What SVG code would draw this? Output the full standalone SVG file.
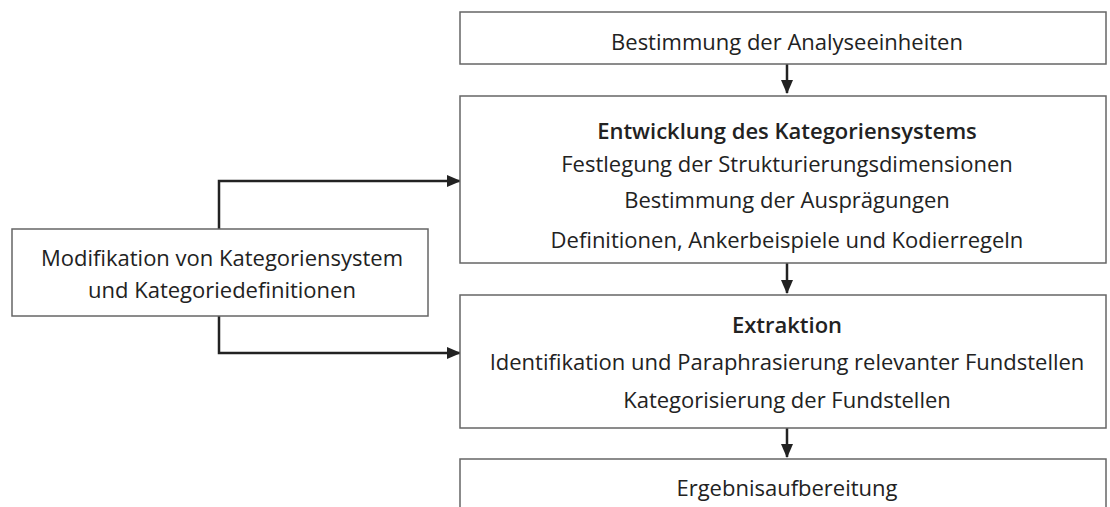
<svg xmlns="http://www.w3.org/2000/svg" width="1110" height="507" viewBox="0 0 1110 507">
<style>
.box{fill:#fff;stroke:#666;stroke-width:1.5}
.t{font-family:"Open Sans","Noto Sans",sans-serif;font-size:22px;fill:#222;text-anchor:middle}
.b{font-weight:600}
.c{fill:none;stroke:#222;stroke-width:2.5}
</style>
<defs>
<marker id="ah" markerWidth="14" markerHeight="12" refX="13" refY="6" orient="auto" markerUnits="userSpaceOnUse">
<path d="M0,0 L14,6 L0,12 Z" fill="#222"/>
</marker>
</defs>
<rect width="1110" height="507" fill="#fff"/>
<g id="connectors">
<path class="c" d="M787,64 V93" marker-end="url(#ah)"/>
<path class="c" d="M787,263 V293" marker-end="url(#ah)"/>
<path class="c" d="M787,428 V457" marker-end="url(#ah)"/>
<path class="c" d="M219,229 V181 H460" marker-end="url(#ah)"/>
<path class="c" d="M219,316 V353 H460" marker-end="url(#ah)"/>
</g>
<g id="n1">
<rect class="box" x="460" y="12" width="646" height="52"/>
<text class="t" x="787" y="50">Bestimmung der Analyseeinheiten</text>
</g>
<g id="n2">
<rect class="box" x="460" y="96" width="646" height="167"/>
<text class="t b" x="787" y="139">Entwicklung des Kategoriensystems</text>
<text class="t" x="787" y="172">Festlegung der Strukturierungsdimensionen</text>
<text class="t" x="787" y="208">Bestimmung der Ausprägungen</text>
<text class="t" x="787" y="248">Definitionen, Ankerbeispiele und Kodierregeln</text>
</g>
<g id="n3">
<rect class="box" x="460" y="295" width="646" height="133"/>
<text class="t b" x="787" y="333">Extraktion</text>
<text class="t" x="787" y="370">Identifikation und Paraphrasierung relevanter Fundstellen</text>
<text class="t" x="787" y="408">Kategorisierung der Fundstellen</text>
</g>
<g id="n4">
<rect class="box" x="460" y="459" width="646" height="60"/>
<text class="t" x="787" y="496">Ergebnisaufbereitung</text>
</g>
<g id="n5">
<rect class="box" x="12" y="229" width="416" height="87"/>
<text class="t" x="222" y="266">Modifikation von Kategoriensystem</text>
<text class="t" x="222" y="298">und Kategoriedefinitionen</text>
</g>
</svg>
